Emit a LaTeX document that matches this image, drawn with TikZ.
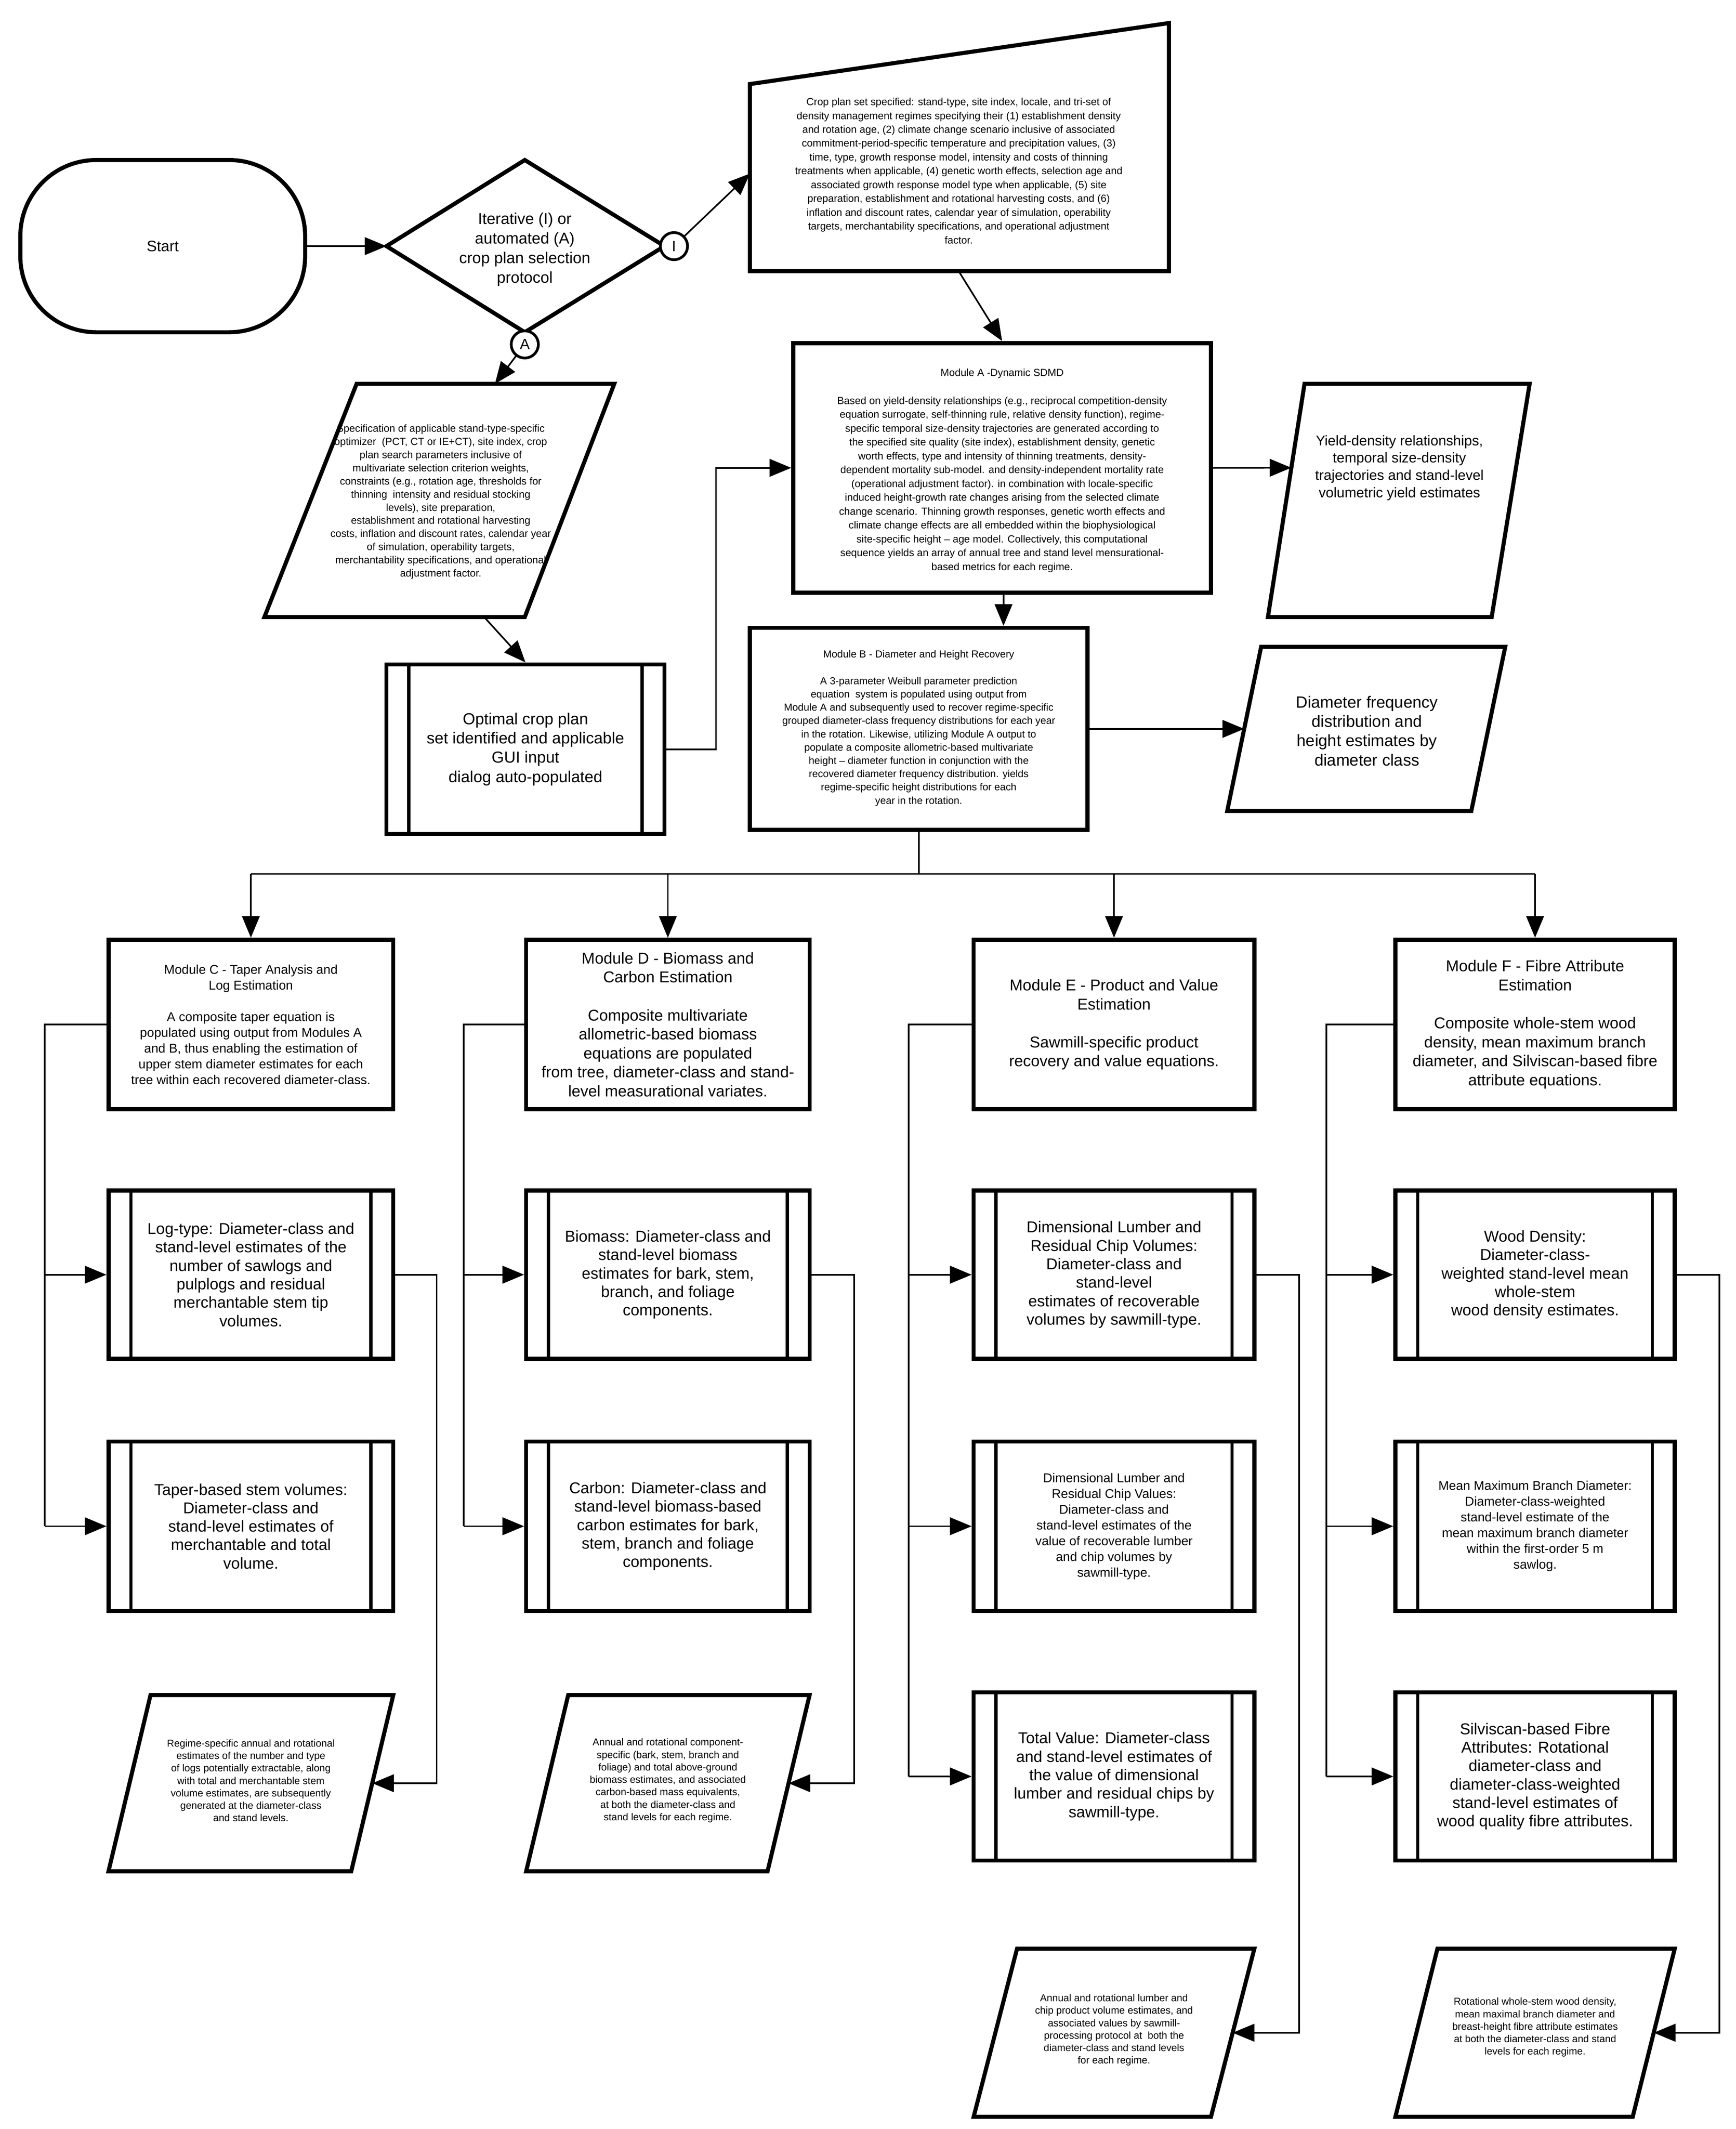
\documentclass[tikz,border=0pt]{standalone}
\usepackage{fontspec}
\setmainfont{Liberation Sans}
\usetikzlibrary{arrows.meta,calc}
\begin{document}
\begin{tikzpicture}[x=0.5pt,y=-0.5pt,
  box/.style={draw,line width=1.5pt,inner sep=0pt,align=center,fill=white},
  shp/.style={draw,line width=1.5pt,line join=miter,fill=white},
  con/.style={line width=0.6pt},
  arr/.style={con,-{Triangle[length=8pt,width=6.5pt]}},
  big/.style={align=center,font=\fontsize{5.6}{7}\selectfont},
  sub/.style={align=center,font=\fontsize{5.8}{6.8}\selectfont},
  mid/.style={align=center,font=\fontsize{4.7}{5.8}\selectfont},
  tiny/.style={align=center,font=\fontsize{3.8}{5.1}\selectfont},
  bot/.style={align=center,font=\fontsize{3.7}{4.6}\selectfont},
  bar/.style={line width=1.2pt}]
\useasboundingbox[fill=white] (0,0) rectangle (1280,1570);

% Start and decision
\node[box,rounded corners=28pt,minimum width=105pt,minimum height=63.5pt,big] (start) at (120,181.5) {Start};
\coordinate (dT) at (387,118); \coordinate (dR) at (490,181.5);
\coordinate (dB) at (387,245); \coordinate (dL) at (285,181.5);
\draw[shp] (dT)--(dR)--(dB)--(dL)--cycle;
\node[big,font=\fontsize{5.8}{7.2}\selectfont] (dtext) at (387,184) {Iterative (I) or\\automated (A)\\crop plan selection\\protocol};
\node[draw,line width=1pt,circle,minimum size=10pt,inner sep=0pt,fill=white,font=\fontsize{5.5}{6}\selectfont] (cI) at (497,181.5) {I};
\node[draw,line width=1pt,circle,minimum size=10pt,inner sep=0pt,fill=white,font=\fontsize{5.5}{6}\selectfont] (cA) at (387,254) {A};
\draw[arr] (start.east) -- (dL);

% Crop plan manual input
\coordinate (cp1) at (553,62); \coordinate (cp2) at (862,17);
\coordinate (cp3) at (862,200); \coordinate (cp4) at (553,200);
\draw[shp] (cp1)--(cp2)--(cp3)--(cp4)--cycle;
\node[tiny] (cptext) at (707,126) {Crop plan set specified: stand-type, site index, locale, and tri-set of\\density management regimes specifying their (1) establishment density\\and rotation age, (2) climate change scenario inclusive of associated\\commitment-period-specific temperature and precipitation values, (3)\\time, type, growth response model, intensity and costs of thinning\\treatments when applicable, (4) genetic worth effects, selection age and\\associated growth response model type when applicable, (5) site\\preparation, establishment and rotational harvesting costs, and (6)\\inflation and discount rates, calendar year of simulation, operability\\targets, merchantability specifications, and operational adjustment\\factor.};
\coordinate (cpL) at (553,128); \coordinate (cpB) at (707,200);
\draw[arr] (cI) -- (cpL);

% Spec parallelogram
\coordinate (s1) at (263,283); \coordinate (s2) at (453,283);
\coordinate (s3) at (387,455); \coordinate (s4) at (195,455);
\draw[shp] (s1)--(s2)--(s3)--(s4)--cycle;
\node[tiny,font=\fontsize{3.8}{4.85}\selectfont] (sptext) at (325,370) {Specification of applicable stand-type-specific\\optimizer\ \ (PCT, CT or IE+CT), site index, crop\\plan search parameters inclusive of\\multivariate selection criterion weights,\\constraints (e.g., rotation age, thresholds for\\thinning\ \ intensity and residual stocking\\levels), site preparation,\\establishment and rotational harvesting\\costs, inflation and discount rates, calendar year\\of simulation, operability targets,\\merchantability specifications, and operational\\adjustment factor.};
\coordinate (spT) at (365,283); \coordinate (spB) at (357,455);
\draw[arr] (cA) -- (spT);

% Optimal crop plan
\node[box,minimum width=102.5pt,minimum height=62.5pt,big,font=\fontsize{5.9}{7.1}\selectfont] (opt) at (387.5,552.5) {Optimal crop plan\\set identified and applicable\\GUI input\\dialog auto-populated};
\draw[arr] (spB) -- (opt.north);

% Module A
\node[box,minimum width=154pt,minimum height=92pt] (mA) at (739,345) {};
\node[tiny] (mAt) at (739,347) {Module A -Dynamic SDMD\\[5.2pt]Based on yield-density relationships (e.g., reciprocal competition-density\\equation surrogate, self-thinning rule, relative density function), regime-\\specific temporal size-density trajectories are generated according to\\the specified site quality (site index), establishment density, genetic\\worth effects, type and intensity of thinning treatments, density-\\dependent mortality sub-model. and density-independent mortality rate\\(operational adjustment factor). in combination with locale-specific\\induced height-growth rate changes arising from the selected climate\\change scenario. Thinning growth responses, genetic worth effects and\\climate change effects are all embedded within the biophysiological\\site-specific height -- age model. Collectively, this computational\\sequence yields an array of annual tree and stand level mensurational-\\based metrics for each regime.};
\draw[arr] (cpB) -- (mA.north);
\coordinate (j1) at (528,0);
\draw[arr] (opt.east) -| (j1 |- mA.west) -- (mA.west);

% Yield parallelogram
\coordinate (y1) at (962,283); \coordinate (y2) at (1128,283);
\coordinate (y3) at (1100,455); \coordinate (y4) at (935,455);
\draw[shp] (y1)--(y2)--(y3)--(y4)--cycle;
\node[big,font=\fontsize{5.2}{6.4}\selectfont] (ytext) at (1032,345) {Yield-density relationships,\\temporal size-density\\trajectories and stand-level\\volumetric yield estimates};
\coordinate (yL) at ($(y1)!0.36!(y4)$);
\draw[arr] (mA.east) -- (yL);

% Module B
\node[box,minimum width=124.5pt,minimum height=74.5pt] (mB) at (677.5,537.5) {};
\node[tiny,font=\fontsize{3.75}{4.9}\selectfont] (mBt) at (677.5,537) {Module B - Diameter and Height Recovery\\[4.9pt]A 3-parameter Weibull parameter prediction\\equation\ \ system is populated using output from\\Module A and subsequently used to recover regime-specific\\grouped diameter-class frequency distributions for each year\\in the rotation. Likewise, utilizing Module A output to\\populate a composite allometric-based multivariate\\height -- diameter function in conjunction with the\\recovered diameter frequency distribution. yields\\regime-specific height distributions for each\\year in the rotation.};
\draw[arr] (mA.south -| 740,0) -- (mB.north -| 740,0);

% Diameter freq parallelogram
\coordinate (q1) at (930,477); \coordinate (q2) at (1110,477);
\coordinate (q3) at (1085,598); \coordinate (q4) at (905,598);
\draw[shp] (q1)--(q2)--(q3)--(q4)--cycle;
\node[big,font=\fontsize{6}{7.1}\selectfont] (qtext) at (1008,539) {Diameter frequency\\distribution and\\height estimates by\\diameter class};
\coordinate (qL) at ($(q1)!0.5!(q4)$);
\draw[arr] (mB.east) -- (mB.east -| qL);

% Modules C-F
\node[box,minimum width=105pt,minimum height=62.5pt,mid] (mC) at (185,755.5) {Module C - Taper Analysis and\\Log Estimation\\[5.8pt]A composite taper equation is\\populated using output from Modules A\\and B, thus enabling the estimation of\\upper stem diameter estimates for each\\tree within each recovered diameter-class.};
\node[box,minimum width=104.5pt,minimum height=62.5pt,align=center,font=\fontsize{5.8}{7}\selectfont] (mD) at (492.5,755.5) {Module D - Biomass and\\Carbon Estimation\\[7pt]Composite multivariate\\allometric-based biomass\\equations are populated\\from tree, diameter-class and stand-\\level measurational variates.};
\node[box,minimum width=103.5pt,minimum height=62.5pt,align=center,font=\fontsize{5.8}{7}\selectfont] (mE) at (821.5,755.5) {Module E - Product and Value\\Estimation\\[7pt]Sawmill-specific product\\recovery and value equations.};
\node[box,minimum width=103pt,minimum height=62.5pt,align=center,font=\fontsize{5.8}{7}\selectfont] (mF) at (1132,755.5) {Module F - Fibre Attribute\\Estimation\\[7pt]Composite whole-stem wood\\density, mean maximum branch\\diameter, and Silviscan-based fibre\\attribute equations.};

\draw[con] (mB.south) -- ++(0,31) coordinate (fan);
\draw[con] (mC.north |- fan) -- (mF.north |- fan);
\foreach \n in {mC,mD,mE,mF} \draw[arr] (\n.north |- fan) -- (\n.north);

% Sub boxes
\node[box,minimum width=105pt,minimum height=62pt,sub] (c1) at (185,940) {Log-type: Diameter-class and\\stand-level estimates of the\\number of sawlogs and\\pulplogs and residual\\merchantable stem tip\\volumes.};
\node[box,minimum width=105pt,minimum height=62.5pt,sub] (c2) at (185,1125.5) {Taper-based stem volumes:\\Diameter-class and\\stand-level estimates of\\merchantable and total\\volume.};
\node[box,minimum width=104.5pt,minimum height=62pt,sub] (d1) at (492.5,940) {Biomass: Diameter-class and\\stand-level biomass\\estimates for bark, stem,\\branch, and foliage\\components.};
\node[box,minimum width=104.5pt,minimum height=62.5pt,sub] (d2) at (492.5,1125.5) {Carbon: Diameter-class and\\stand-level biomass-based\\carbon estimates for bark,\\stem, branch and foliage\\components.};
\node[box,minimum width=103.5pt,minimum height=62pt,sub] (e1) at (821.5,940) {Dimensional Lumber and\\Residual Chip Volumes:\\Diameter-class and\\stand-level\\estimates of recoverable\\volumes by sawmill-type.};
\node[box,minimum width=103.5pt,minimum height=62.5pt,mid] (e2) at (821.5,1125.5) {Dimensional Lumber and\\Residual Chip Values:\\Diameter-class and\\stand-level estimates of the\\value of recoverable lumber\\and chip volumes by\\sawmill-type.};
\node[box,minimum width=103.5pt,minimum height=62pt,sub] (e3) at (821.5,1310) {Total Value: Diameter-class\\and stand-level estimates of\\the value of dimensional\\lumber and residual chips by\\sawmill-type.};
\node[box,minimum width=103pt,minimum height=62pt,sub] (f1) at (1132,940) {Wood Density:\\Diameter-class-\\weighted stand-level mean\\whole-stem\\wood density estimates.};
\node[box,minimum width=103pt,minimum height=62.5pt,mid] (f2) at (1132,1125.5) {Mean Maximum Branch Diameter:\\Diameter-class-weighted\\stand-level estimate of the\\mean maximum branch diameter\\within the first-order 5 m\\sawlog.};
\node[box,minimum width=103pt,minimum height=62pt,sub] (f3) at (1132,1310) {Silviscan-based Fibre\\Attributes: Rotational\\diameter-class and\\diameter-class-weighted\\stand-level estimates of\\wood quality fibre attributes.};

\foreach \n in {opt,c1,c2,d1,d2,e1,e2,e3,f1,f2,f3} {
  \draw[bar] ([xshift=9pt]\n.north west) -- ([xshift=9pt]\n.south west);
  \draw[bar] ([xshift=-9pt]\n.north east) -- ([xshift=-9pt]\n.south east);
}

% Left feed lines
\coordinate (lc) at (33,0); \coordinate (ld) at (342,0);
\coordinate (le) at (670,0); \coordinate (lf) at (978,0);
\draw[con] (mC.west) -| (lc |- c2.west);
\draw[arr] (lc |- c1.west) -- (c1.west);
\draw[arr] (lc |- c2.west) -- (c2.west);
\draw[con] (mD.west) -| (ld |- d2.west);
\draw[arr] (ld |- d1.west) -- (d1.west);
\draw[arr] (ld |- d2.west) -- (d2.west);
\draw[con] (mE.west) -| (le |- e3.west);
\draw[arr] (le |- e1.west) -- (e1.west);
\draw[arr] (le |- e2.west) -- (e2.west);
\draw[arr] (le |- e3.west) -- (e3.west);
\draw[con] (mF.west) -| (lf |- f3.west);
\draw[arr] (lf |- f1.west) -- (f1.west);
\draw[arr] (lf |- f2.west) -- (f2.west);
\draw[arr] (lf |- f3.west) -- (f3.west);

% Output parallelograms
\coordinate (pc1) at (111,1250); \coordinate (pc2) at (290,1250);
\coordinate (pc3) at (259,1380); \coordinate (pc4) at (80,1380);
\draw[shp] (pc1)--(pc2)--(pc3)--(pc4)--cycle;
\node[bot] (pct) at (185,1313) {Regime-specific annual and rotational\\estimates of the number and type\\of logs potentially extractable, along\\with total and merchantable stem\\volume estimates, are subsequently\\generated at the diameter-class\\and stand levels.};
\coordinate (pd1) at (419,1250); \coordinate (pd2) at (597,1250);
\coordinate (pd3) at (566,1380); \coordinate (pd4) at (388,1380);
\draw[shp] (pd1)--(pd2)--(pd3)--(pd4)--cycle;
\node[bot] (pdt) at (492.5,1313) {Annual and rotational component-\\specific (bark, stem, branch and\\foliage) and total above-ground\\biomass estimates, and associated\\carbon-based mass equivalents,\\at both the diameter-class and\\stand levels for each regime.};
\coordinate (pe1) at (750,1437); \coordinate (pe2) at (925,1437);
\coordinate (pe3) at (893,1561); \coordinate (pe4) at (718,1561);
\draw[shp] (pe1)--(pe2)--(pe3)--(pe4)--cycle;
\node[bot] (pet) at (821.5,1497) {Annual and rotational lumber and\\chip product volume estimates, and\\associated values by sawmill-\\processing protocol at\ \ both the\\diameter-class and stand levels\\for each regime.};
\coordinate (pf1) at (1060,1437); \coordinate (pf2) at (1235,1437);
\coordinate (pf3) at (1204,1561); \coordinate (pf4) at (1029,1561);
\draw[shp] (pf1)--(pf2)--(pf3)--(pf4)--cycle;
\node[bot] (pft) at (1132,1495) {Rotational whole-stem wood density,\\mean maximal branch diameter and\\breast-height fibre attribute estimates\\at both the diameter-class and stand\\levels for each regime.};

% Right output lines
\coordinate (rc) at (322,0); \coordinate (rd) at (630,0);
\coordinate (re) at (958,0); \coordinate (rf) at (1268,0);
\coordinate (pcR) at ($(pc2)!0.5!(pc3)$);
\coordinate (pdR) at ($(pd2)!0.5!(pd3)$);
\coordinate (peR) at ($(pe2)!0.5!(pe3)$);
\coordinate (pfR) at ($(pf2)!0.5!(pf3)$);
\draw[arr] (c1.east) -| (rc |- pcR) -- (pcR);
\draw[arr] (d1.east) -| (rd |- pdR) -- (pdR);
\draw[arr] (e1.east) -| (re |- peR) -- (peR);
\draw[arr] (f1.east) -| (rf |- pfR) -- (pfR);
\end{tikzpicture}
\end{document}
